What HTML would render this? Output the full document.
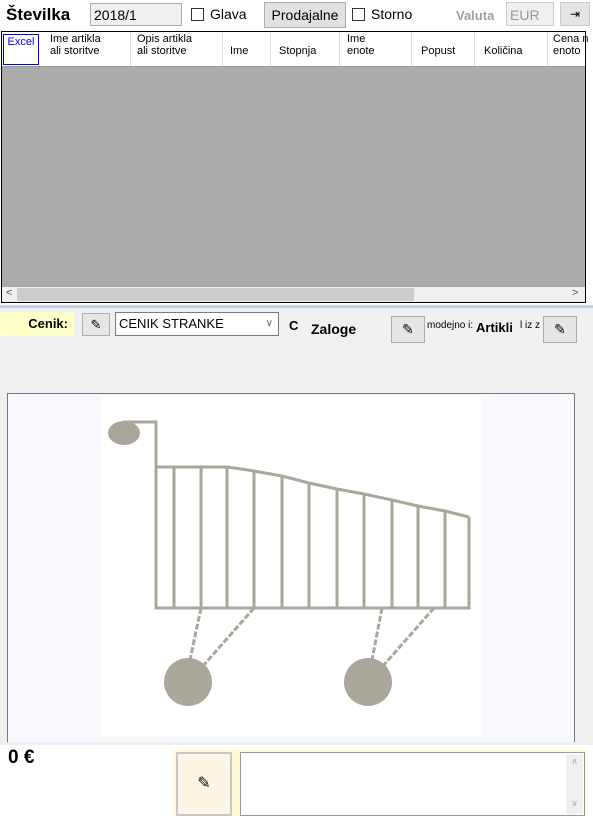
<!DOCTYPE html>
<html><head><meta charset="utf-8"><style>
body{margin:0;width:593px;height:816px;position:relative;background:#fff;font-family:"Liberation Sans",sans-serif;overflow:hidden}
.a{position:absolute}
.hd{position:absolute;top:33px;font-size:11px;line-height:12px;color:#000}
.chk{position:absolute;width:11px;height:11px;border:1px solid #333;background:#fff}
.pen{position:absolute;background:#e6e6e6;border:1px solid #adadad}
</style></head><body>
<div class="a" style="left:0;top:0;width:593px;height:31px;background:#fff"></div>
<div class="a" style="left:6px;top:5px;font-size:17px;font-weight:bold">Številka</div>
<div class="a" style="left:90px;top:3px;width:92px;height:23px;border:1px solid #aaa;background:#f0f0f0;font-size:14px;line-height:23px;padding-left:3px;box-sizing:border-box">2018/1</div>
<div class="chk" style="left:191px;top:8px"></div>
<div class="a" style="left:210px;top:6px;font-size:14px">Glava</div>
<div class="a" style="left:264px;top:2px;width:82px;height:26px;border:1px solid #adadad;background:#e1e1e1;box-sizing:border-box;font-size:14px;line-height:24px;text-align:center">Prodajalne</div>
<div class="chk" style="left:352px;top:8px"></div>
<div class="a" style="left:371px;top:6px;font-size:14px">Storno</div>
<div class="a" style="left:456px;top:8px;font-size:13px;font-weight:bold;color:#a0a0a0">Valuta</div>
<div class="a" style="left:506px;top:2px;width:48px;height:24px;border:1px solid #ccc;background:#f0f0f0;font-size:14px;color:#999;line-height:24px;padding-left:3px;box-sizing:border-box">EUR</div>
<div class="a" style="left:560px;top:2px;width:30px;height:24px;background:#e4e4e4;border:1px solid #ccc;box-sizing:border-box;font-size:12px;text-align:center;line-height:22px">⇥</div>

<div class="a" style="left:1px;top:31px;width:585px;height:272px;border:1px solid #000;background:#ababab;box-sizing:border-box"></div>
<div class="a" style="left:2px;top:32px;width:583px;height:34px;background:#fff;border-bottom:1px solid #999"></div>
<div class="a" style="left:3px;top:34px;width:36px;height:31px;border:1px solid #0000ee;color:#0000ee;font-size:11px;text-align:center;box-sizing:border-box;line-height:14px">Excel</div>
<div class="hd" style="left:50px">Ime artikla<br>ali storitve</div>
<div class="hd" style="left:137px">Opis artikla<br>ali storitve</div>
<div class="hd" style="left:230px;top:45px">Ime</div>
<div class="hd" style="left:279px;top:45px">Stopnja</div>
<div class="hd" style="left:347px">Ime<br>enote</div>
<div class="hd" style="left:421px;top:45px">Popust</div>
<div class="hd" style="left:484px;top:45px">Količina</div>
<div class="hd" style="left:553px">Cena n<br>enoto</div>
<div class="a" style="left:2px;top:32px;width:583px;height:34px;background:linear-gradient(#ddd,#ddd) 128px 0/1px 34px no-repeat,linear-gradient(#ddd,#ddd) 220px 0/1px 34px no-repeat,linear-gradient(#ddd,#ddd) 268px 0/1px 34px no-repeat,linear-gradient(#ddd,#ddd) 337px 0/1px 34px no-repeat,linear-gradient(#ddd,#ddd) 409px 0/1px 34px no-repeat,linear-gradient(#ddd,#ddd) 472px 0/1px 34px no-repeat,linear-gradient(#ddd,#ddd) 545px 0/1px 34px no-repeat"></div>
<div class="a" style="left:2px;top:287px;width:583px;height:15px;background:#f0f0f0"></div>
<div class="a" style="left:17px;top:288px;width:397px;height:13px;background:#cdcdcd"></div>
<div class="a" style="left:6px;top:287px;font-size:11px;color:#555">&lt;</div>
<div class="a" style="left:572px;top:287px;font-size:11px;color:#555">&gt;</div>

<div class="a" style="left:0;top:305px;width:593px;height:437px;background:#f0f0f0;border-top:3px solid #c8d4e4"></div>
<div class="a" style="left:0;top:312px;width:74px;height:24px;background:#ffffc8;font-size:13px;font-weight:bold;line-height:24px;text-align:right;padding-right:6px;box-sizing:border-box">Cenik:</div>
<div class="pen" style="left:82px;top:313px;width:26px;height:21px;font-size:13px;text-align:center;line-height:21px">✎</div>
<div class="a" style="left:115px;top:312px;width:164px;height:24px;border:1px solid #7a7a7a;background:#fff;font-size:13px;line-height:22px;padding-left:3px;box-sizing:border-box">CENIK STRANKE<span style="position:absolute;right:5px;color:#666;font-size:10px">∨</span></div>
<div class="a" style="left:289px;top:318px;font-size:13px;font-weight:bold">C</div>
<div class="a" style="left:311px;top:321px;font-size:14px;font-weight:bold">Zaloge</div>
<div class="pen" style="left:391px;top:316px;width:32px;height:25px;font-size:14px;text-align:center;line-height:25px">✎</div>
<div class="a" style="left:427px;top:320px;font-size:10px">modejno i:</div>
<div class="a" style="left:476px;top:320px;font-size:13px;font-weight:bold">Artikli</div>
<div class="a" style="left:520px;top:320px;font-size:10px">l iz z</div>
<div class="pen" style="left:543px;top:316px;width:32px;height:25px;font-size:14px;text-align:center;line-height:25px">✎</div>

<div class="a" style="left:7px;top:393px;width:568px;height:349px;border:1px solid #777;border-bottom:none;background:#f7f9fe;box-sizing:border-box"></div>
<div class="a" style="left:101px;top:395px;width:380px;height:342px;background:#fff"></div>
<svg class="a" style="left:0;top:0" width="593" height="816">
<g stroke="#aaa79a" stroke-width="3" fill="none">
<polyline points="123,422 156,422 156,466"/>
<polyline points="156,466 156,608 469,608 469,517"/>
<polyline points="156,467 227,467 248,470 282,476 309,483 337,489 364,494 392,500 418,506 445,511 469,517"/>
<g id="v"></g>
<line x1="201" y1="608" x2="190" y2="660" stroke-dasharray="6,2"/>
<line x1="254" y1="608" x2="203" y2="666" stroke-dasharray="6,2"/>
<line x1="382" y1="608" x2="372" y2="660" stroke-dasharray="6,2"/>
<line x1="434" y1="608" x2="383" y2="666" stroke-dasharray="6,2"/>
</g>
<g fill="#aaa79a">
<ellipse cx="124" cy="433" rx="16" ry="12"/>
<circle cx="188" cy="682" r="24"/>
<circle cx="368" cy="682" r="24"/>
</g>
<g stroke="#aaa79a" stroke-width="3">
<line x1="174" y1="467" x2="174" y2="608"/><line x1="201" y1="467" x2="201" y2="608"/>
<line x1="227" y1="467" x2="227" y2="608"/><line x1="254" y1="472" x2="254" y2="608"/>
<line x1="282" y1="476" x2="282" y2="608"/><line x1="309" y1="483" x2="309" y2="608"/>
<line x1="337" y1="489" x2="337" y2="608"/><line x1="364" y1="494" x2="364" y2="608"/>
<line x1="392" y1="500" x2="392" y2="608"/><line x1="418" y1="506" x2="418" y2="608"/>
<line x1="445" y1="511" x2="445" y2="608"/>
</g>
</svg>

<div class="a" style="left:8px;top:747px;font-size:19px;font-weight:bold">0 €</div>
<div class="a" style="left:174px;top:750px;width:412px;height:66px;background:#fff8d0"></div>
<div class="a" style="left:176px;top:752px;width:56px;height:64px;background:#fcf5e6;border:2px solid #c8c8c8;box-sizing:border-box;font-size:16px;text-align:center;line-height:60px">✎</div>
<div class="a" style="left:240px;top:752px;width:345px;height:64px;background:#fff;border:1px solid #999;box-sizing:border-box"></div>
<div class="a" style="left:566px;top:754px;width:17px;height:60px;background:#f0f0f0;color:#aaa;font-size:9px;text-align:center;line-height:14px">∧<br><br><br>∨</div>
</body></html>
